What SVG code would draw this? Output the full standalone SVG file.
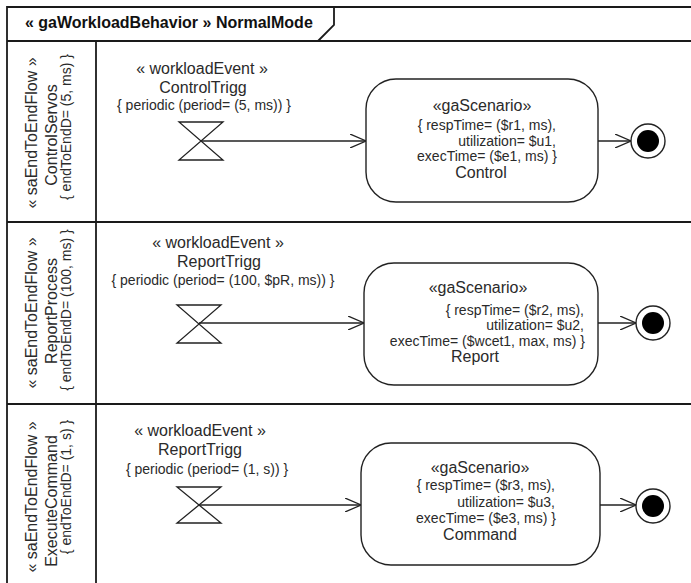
<svg xmlns="http://www.w3.org/2000/svg" width="691" height="583" viewBox="0 0 691 583">
<style>
.frame{fill:none;stroke:#1a1a1a;stroke-width:1.8}
.ln{fill:none;stroke:#222;stroke-width:1.3}
.box{fill:#fff;stroke:#222;stroke-width:1.4}
.t{font-family:"Liberation Sans",Arial,sans-serif;fill:#2a2a2a}
.big{font-size:16px}
.sm{font-size:14px}
.c{text-anchor:middle}
.r{text-anchor:end}
.title{font-family:"Liberation Sans",Arial,sans-serif;font-size:16px;font-weight:bold;fill:#111}
</style>
<defs>
<marker id="open" viewBox="0 0 16 14" refX="16" refY="7" markerWidth="16" markerHeight="14" markerUnits="userSpaceOnUse" orient="auto">
<path d="M0,0 L16,7 L0,14" fill="none" stroke="#222" stroke-width="1.3"/>
</marker>
</defs>
<rect width="691" height="583" fill="#fff"/>
<g id="frame">
<path class="frame" d="M7,583 L7,7 L691,7"/>
<path class="frame" d="M7,41 L691,41"/>
<path class="frame" d="M318,41 L334,25 L334,7"/>
<path class="frame" d="M96,41 L96,583"/>
<path class="frame" d="M7,222 L691,222"/>
<path class="frame" d="M7,404 L691,404"/>
<text class="title" x="25" y="28">« gaWorkloadBehavior » NormalMode</text>
</g>
<g id="lane1-label">
<text class="t big c" transform="translate(37,133) rotate(-90)">« saEndToEndFlow »</text>
<text class="t big c" transform="translate(57,135) rotate(-90)">ControlServos</text>
<text class="t sm c" transform="translate(71,127) rotate(-90)">{ endToEndD= (5, ms) }</text>
</g>
<g id="lane2-label">
<text class="t big c" transform="translate(37,313) rotate(-90)">« saEndToEndFlow »</text>
<text class="t big c" transform="translate(57,311) rotate(-90)">ReportProcess</text>
<text class="t sm c" transform="translate(71,310) rotate(-90)">{ endToEndD= (100, ms) }</text>
</g>
<g id="lane3-label">
<text class="t big c" transform="translate(37,497) rotate(-90)">« saEndToEndFlow »</text>
<text class="t big c" transform="translate(57,501) rotate(-90)">ExecuteCommand</text>
<text class="t sm c" transform="translate(71,487) rotate(-90)">{ endToEndD= (1, s) }</text>
</g>
<g id="connectors">
<path class="ln" d="M201,141 L366,141" marker-end="url(#open)"/>
<path class="ln" d="M598,141 L631,141" marker-end="url(#open)"/>
<path class="ln" d="M199,323 L364,323" marker-end="url(#open)"/>
<path class="ln" d="M598,323 L636,323" marker-end="url(#open)"/>
<path class="ln" d="M199,505 L361,505" marker-end="url(#open)"/>
<path class="ln" d="M600,505 L636,505" marker-end="url(#open)"/>
</g>
<g id="ControlTrigg">
<text class="t big c" x="202" y="74">« workloadEvent »</text>
<text class="t big c" x="203" y="93">ControlTrigg</text>
<text class="t sm c" x="204" y="110">{ periodic (period= (5, ms)) }</text>
<path class="ln" d="M179,122 L223,122 L179,160 L223,160 Z"/>
</g>
<g id="Control">
<rect class="box" x="366" y="79" width="232" height="123" rx="30" ry="30"/>
<text class="t big c" x="482" y="111">«gaScenario»</text>
<text class="t sm r" x="556" y="130">{ respTime= ($r1, ms),</text>
<text class="t sm r" x="556" y="146">utilization= $u1,</text>
<text class="t sm r" x="557" y="161">execTime= ($e1, ms) }</text>
<text class="t big c" x="481" y="178">Control</text>
</g>
<g id="end1">
<circle cx="648" cy="141" r="17" fill="#fff" stroke="#222" stroke-width="1.4"/>
<circle cx="648" cy="141" r="11" fill="#000"/>
</g>
<g id="ReportTrigg1">
<text class="t big c" x="218" y="248">« workloadEvent »</text>
<text class="t big c" x="219" y="267">ReportTrigg</text>
<text class="t sm c" x="223" y="285">{ periodic (period= (100, $pR, ms)) }</text>
<path class="ln" d="M177,305 L221,305 L177,343 L221,343 Z"/>
</g>
<g id="Report">
<rect class="box" x="364" y="263" width="234" height="122" rx="30" ry="30"/>
<text class="t big c" x="478" y="293">«gaScenario»</text>
<text class="t sm r" x="584" y="315">{ respTime= ($r2, ms),</text>
<text class="t sm r" x="584" y="330">utilization= $u2,</text>
<text class="t sm r" x="585" y="346">execTime= ($wcet1, max, ms) }</text>
<text class="t big c" x="475" y="362">Report</text>
</g>
<g id="end2">
<circle cx="653" cy="323" r="17" fill="#fff" stroke="#222" stroke-width="1.4"/>
<circle cx="653" cy="323" r="11" fill="#000"/>
</g>
<g id="ReportTrigg2">
<text class="t big c" x="200" y="436">« workloadEvent »</text>
<text class="t big c" x="200" y="455">ReportTrigg</text>
<text class="t sm c" x="207" y="474">{ periodic (period= (1, s)) }</text>
<path class="ln" d="M177,487 L221,487 L177,523 L221,523 Z"/>
</g>
<g id="Command">
<rect class="box" x="361" y="443" width="239" height="122" rx="30" ry="30"/>
<text class="t big c" x="480" y="473">«gaScenario»</text>
<text class="t sm r" x="555" y="490">{ respTime= ($r3, ms),</text>
<text class="t sm r" x="555" y="507">utilization= $u3,</text>
<text class="t sm r" x="556" y="523">execTime= ($e3, ms) }</text>
<text class="t big c" x="480" y="540">Command</text>
</g>
<g id="end3">
<circle cx="653" cy="506" r="17" fill="#fff" stroke="#222" stroke-width="1.4"/>
<circle cx="653" cy="506" r="11" fill="#000"/>
</g>
</svg>
